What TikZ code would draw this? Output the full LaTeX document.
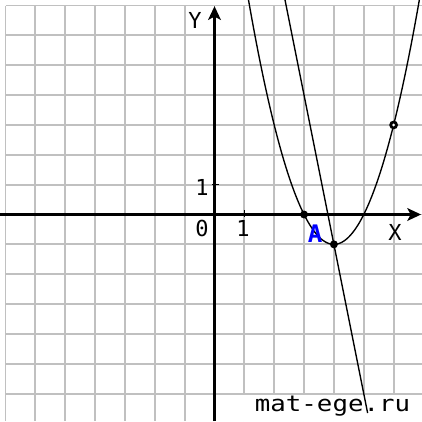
\documentclass[tikz,border=0pt]{standalone}
\usepackage{fontspec}
\newfontfamily\monof{DejaVu Sans Mono}
\usetikzlibrary{arrows.meta}
\definecolor{gridgray}{RGB}{192,192,192}
\definecolor{lblue}{RGB}{0,0,255}
\begin{document}
\begin{tikzpicture}[x=1cm,y=1cm,
  gridline/.style={draw=gridgray,line width=1.8pt},
  axisline/.style={line width=3pt,-{Stealth[length=13pt,width=12pt,inset=3pt]}},
  curveline/.style={line width=1.3pt,black},
  tickline/.style={line width=1.2pt},
  lbl/.style={font=\monof\fontsize{21}{21}\selectfont,inner sep=0pt},
  ptlabel/.style={font=\monof\bfseries\fontsize{23}{23}\selectfont,inner sep=0pt,text=lblue},
  wm/.style={font=\monof\fontsize{21}{21}\selectfont,inner sep=0pt,xscale=1.17,anchor=base}]
\useasboundingbox (-7.186,-6.918) rectangle (6.951,7.186);
\fill[white] (-7.186,-6.918) rectangle (6.951,7.186);
% grid
\foreach \x in {-7,...,6} \draw[gridline] (\x,-6.918) -- (\x,7);
\foreach \y in {-6,...,7} \draw[gridline] (-7,\y) -- (6.951,\y);
% watermark box and text
\fill[white] (0.8,-6.918) rectangle (6.951,-6.06);
\node[wm] (wmark) at (3.953,-6.583) {mat-ege.ru};
% axes
\coordinate (xl) at (-7.19,0);
\coordinate (xr) at (6.92,0);
\coordinate (yb) at (0,-6.92);
\coordinate (yt) at (0,6.98);
\draw[axisline] (xl) -- (xr);
\draw[axisline] (yb) -- (yt);
% ticks
\coordinate (tx1) at (1,0.14);
\coordinate (tx2) at (1,-0.08);
\coordinate (ty1) at (-0.08,1);
\coordinate (ty2) at (0.16,1);
\draw[tickline] (tx1) -- (tx2);
\draw[tickline] (ty1) -- (ty2);
% curves
\begin{scope}
\clip (-7.186,-6.918) rectangle (6.951,7.186);
\draw[curveline] plot[domain=1.05:6.95,samples=120] (\x,{(\x-3)*(\x-5)});
\coordinate (Ltop) at (2.36,7.2);
\coordinate (Lbot) at (5.13,-6.65);
\draw[curveline] (Ltop) -- (Lbot);
\end{scope}
% points
\coordinate (P) at (3,0);
\coordinate (V) at (4,-1);
\coordinate (Q) at (6,3);
\fill (P) circle (3.8pt);
\fill (V) circle (3.8pt);
\fill (Q) circle (4.2pt);
\fill[white] (Q) circle (1.5pt);
% labels
\node[lbl] (ylab) at (-0.653,6.516) {Y};
\node[lbl] (xlab) at (6.047,-0.586) {X};
\node[lbl] (zero) at (-0.419,-0.452) {0};
\node[lbl] (onex) at (0.955,-0.452) {1};
\node[lbl] (oney) at (-0.419,0.921) {1};
\node[ptlabel] (alab) at (3.367,-0.653) {A};
\end{tikzpicture}
\end{document}
